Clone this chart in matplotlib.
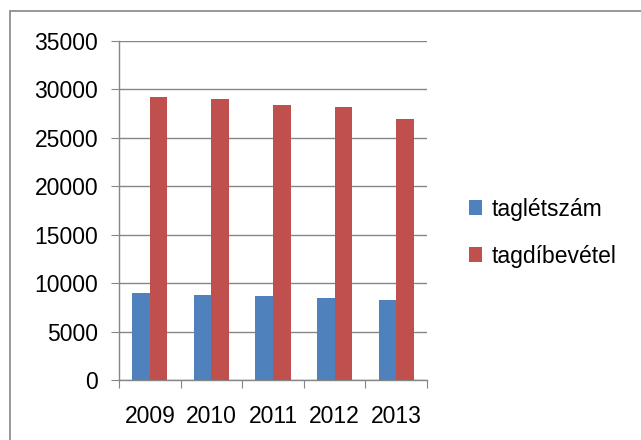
import matplotlib.pyplot as plt
import matplotlib.patches as mpatches
import numpy as np

plt.rcParams['font.family'] = ['Liberation Sans', 'DejaVu Sans']

years = ['2009', '2010', '2011', '2012', '2013']
taglétszám = [8950, 8770, 8700, 8420, 8250]
tagdíbevétel = [29150, 28970, 28380, 28110, 26900]

fig = plt.figure(figsize=(6.41, 4.4), dpi=100)
ax = fig.add_axes([0.1857, 0.1364, 0.4805, 0.7711])

x = np.arange(len(years))
w = 0.285
ax.bar(x - w/2, taglétszám, w, color='#4F81BD', label='taglétszám', zorder=3)
ax.bar(x + w/2, tagdíbevétel, w, color='#C0504D', label='tagdíbevétel', zorder=3)

ax.set_xlim(-0.5, len(years) - 0.5)
ax.set_ylim(0, 35000)
ax.set_yticks(range(0, 35001, 5000))
ax.yaxis.grid(True, color='#868686', linewidth=1, zorder=0)

# x ticks between categories, labels at centres
ax.set_xticks(np.arange(-0.5, len(years), 1))
ax.set_xticklabels([])
ax.set_xticks(x, minor=True)
ax.set_xticklabels(years, minor=True)
ax.tick_params(axis='x', which='minor', length=0, pad=18, labelsize=16.5)
ax.tick_params(axis='x', which='major', length=6, color='#868686', direction='out')
ax.tick_params(axis='y', length=6, color='#868686', labelsize=16.5, pad=9)

for s in ['top', 'right']:
    ax.spines[s].set_visible(False)
for s in ['left', 'bottom']:
    ax.spines[s].set_color('#868686')
    ax.spines[s].set_linewidth(1)

fig.legend(loc='center left', bbox_to_anchor=(0.699, 0.471), frameon=False,
           fontsize=16.5, handlelength=0.6, handleheight=0.6, handletextpad=0.4,
           labelspacing=1.05)

# chart frame: only top and left edges fall inside the image
fig.patches.append(mpatches.Rectangle((10 / 641, -0.2), 1.2, 1.2 - 11 / 440 + 0.0,
                                      transform=fig.transFigure, fill=False,
                                      edgecolor='#868686', linewidth=1.2))

plt.savefig('out.png', dpi=100)
